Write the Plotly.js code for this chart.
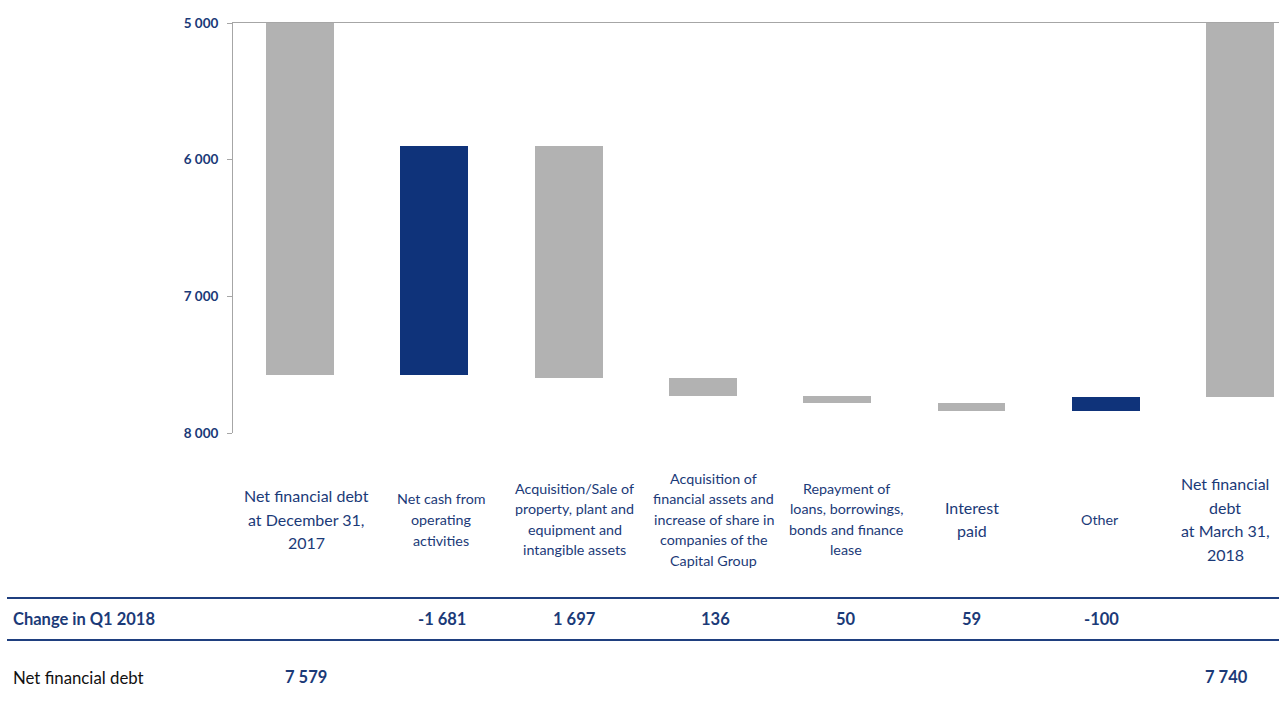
<!DOCTYPE html>
<html>
<head>
<meta charset="utf-8">
<script src="https://cdn.plot.ly/plotly-3.0.1.min.js"></script>
<style>html,body{margin:0;padding:0;background:#fff;overflow:hidden;}#chart{width:1279px;height:706px;}</style>
</head>
<body>
<div id="chart"></div>
<script>
// ---- data ----
const categories = [
  "Net financial debt<br>at December 31,<br>2017",
  "Net cash from<br>operating<br>activities",
  "Acquisition/Sale of<br>property, plant and<br>equipment and<br>intangible assets",
  "Acquisition of<br>financial assets and<br>increase of share in<br>companies of the<br>Capital Group",
  "Repayment of<br>loans, borrowings,<br>bonds and finance<br>lease",
  "Interest<br>paid",
  "Other",
  "Net financial<br>debt<br>at March 31,<br>2018"
];
const openingDebt = 7579;
const changes = [-1681, 1697, 136, 50, 59, -100];
const closingDebt = 7740;
const yTicks = [5000, 6000, 7000, 8000];
const rowLabels = ["Change in Q1 2018", "Net financial debt"];

// ---- styling ----
const GRAY = "#B2B2B2", NAVY = "#0F337A", TXT = "#1B3A78";
const FONT = "Lato, 'Open Sans', sans-serif";
const plotTop = 23, plotBottom = 433, plotLeft = 233, plotRight = 1279;
const plotH = plotBottom - plotTop, plotW = plotRight - plotLeft;
const py = p => (plotBottom - p) / plotH;
const pxp = p => (p - plotLeft) / plotW;
const labelSizes = [16, 14.3, 14.3, 14.3, 14.3, 16, 14.3, 16];
const labelLead = [23.5, 21, 20.3, 20.5, 20.3, 23, 21, 23.7];
const labelShift = [6, 7, 6, 11, 9, 0, -6, -15];
const valueShift = [6, 8, 6, 13, 9, 0, -4, -14];

function fmt(v) {
  const s = Math.abs(v).toString().replace(/\B(?=(\d{3})+(?!\d))/g, " ");
  return (v < 0 ? "-" : "") + s;
}

// build floating bars
const xs = [], bases = [], heights = [], colors = [];
xs.push(0); bases.push(0); heights.push(openingDebt); colors.push(GRAY);
let level = openingDebt;
changes.forEach((c, i) => {
  xs.push(i + 1);
  bases.push(level);
  heights.push(c);
  colors.push(c < 0 ? NAVY : GRAY);
  level += c;
});
xs.push(categories.length - 1); bases.push(0); heights.push(closingDebt); colors.push(GRAY);

const trace = {
  type: "bar",
  x: xs, y: heights, base: bases,
  width: 0.506,
  marker: {color: colors, line: {width: 0}},
  hoverinfo: "skip"
};

const annotations = [];
categories.forEach((c, i) => {
  const lines = c.split("<br>");
  const n = lines.length;
  lines.forEach((ln, k) => {
    annotations.push({
      xref: "x", yref: "paper", x: i, y: py(519), xshift: labelShift[i],
      yshift: -(k - (n - 1) / 2) * labelLead[i],
      text: ln, showarrow: false, xanchor: "center", yanchor: "middle",
      font: {family: FONT, size: labelSizes[i], color: TXT}, align: "center"
    });
  });
});
// table row labels
annotations.push({xref: "paper", yref: "paper", x: pxp(11), y: py(619), text: "<b>" + rowLabels[0] + "</b>",
  showarrow: false, xanchor: "left", yanchor: "middle", font: {family: FONT, size: 16.5, color: TXT}});
annotations.push({xref: "paper", yref: "paper", x: pxp(11), y: py(677), text: rowLabels[1],
  showarrow: false, xanchor: "left", yanchor: "middle", font: {family: FONT, size: 16.8, color: "#111"}});
changes.forEach((c, i) => {
  annotations.push({xref: "x", yref: "paper", x: i + 1, y: py(619), xshift: valueShift[i + 1],
    text: "<b>" + fmt(c) + "</b>", showarrow: false, xanchor: "center", yanchor: "middle",
    font: {family: FONT, size: 16.5, color: TXT}});
});
[[0, openingDebt], [categories.length - 1, closingDebt]].forEach(([i, v]) => {
  annotations.push({xref: "x", yref: "paper", x: i, y: py(677), xshift: valueShift[i],
    text: "<b>" + fmt(v) + "</b>", showarrow: false, xanchor: "center", yanchor: "middle",
    font: {family: FONT, size: 16.5, color: TXT}});
});

const shapes = [598, 640].map(p => ({
  type: "line", xref: "paper", yref: "paper", x0: pxp(7), x1: 1, y0: py(p), y1: py(p),
  line: {color: "#1F3F7F", width: 2}
}));

const layout = {
  width: 1279, height: 706,
  margin: {l: plotLeft, r: 1279 - plotRight, t: plotTop, b: 706 - plotBottom, pad: 0},
  paper_bgcolor: "#fff", plot_bgcolor: "#fff",
  separators: ". ",
  showlegend: false,
  bargap: 0,
  xaxis: {
    type: "linear", range: [-0.5, 7.29], side: "top",
    showline: true, linecolor: "#A6A6A6", linewidth: 1.5,
    showgrid: false, zeroline: false, showticklabels: false, ticks: "",
    fixedrange: true
  },
  yaxis: {
    range: [8000, 5000], tickvals: yTicks, ticktext: yTicks.map(v => "<b>" + fmt(v) + "</b>"),
    showline: true, linecolor: "#A6A6A6", linewidth: 1,
    ticks: "outside", ticklen: 5, tickcolor: "#A6A6A6", ticklabelstandoff: 6,
    showgrid: false, zeroline: false,
    tickfont: {family: FONT, size: 13.5, color: TXT},
    fixedrange: true
  },
  annotations: annotations,
  shapes: shapes
};

Plotly.newPlot("chart", [trace], layout, {displayModeBar: false, staticPlot: true});
</script>
</body>
</html>
